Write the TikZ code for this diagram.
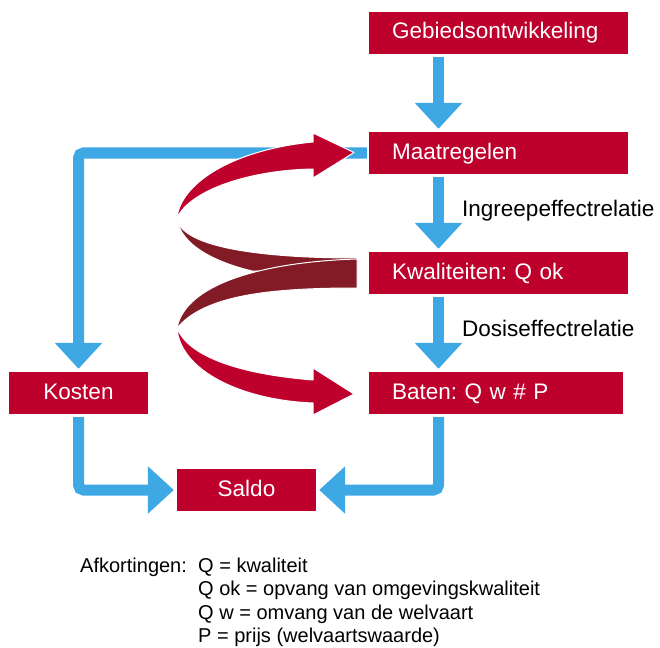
\documentclass[tikz,border=0pt]{standalone}
\usepackage{fontspec}
\setmainfont{Liberation Sans}
\usetikzlibrary{arrows.meta,calc}
\definecolor{boxred}{RGB}{190,0,45}
\definecolor{darkred}{RGB}{130,27,38}
\definecolor{arrowblue}{RGB}{62,168,229}
\newcommand\bxfont{\fontsize{22.5}{27}\selectfont}
\newcommand\ntfont{\fontsize{20}{24}\selectfont}
\frenchspacing
\tikzset{
  box/.style={fill=boxred, text=white, minimum height=42pt, inner ysep=0pt,
    font=\bxfont, text height=16pt, text depth=4pt},
  leftbox/.style={box, align=left, inner xsep=23pt, text width=#1},
  centerbox/.style={box, minimum width=139pt, inner xsep=0pt},
  flow/.style={arrowblue, line width=11pt, -{Triangle[width=46pt,length=26pt]}},
  ribbon/.style={fill=boxred, draw=white, line width=1pt, line join=round},
  darkribbon/.style={fill=darkred, draw=white, line width=1pt, line join=round},
  lbl/.style={font=\bxfont, anchor=base west, inner sep=0pt},
  note/.style={font=\ntfont, anchor=base west, inner sep=0pt}
}
\begin{document}
\begin{tikzpicture}[x=1pt,y=-1pt]
\useasboundingbox (0,0) rectangle (660,647);

% boxes
\node[leftbox=213pt] (geb) at (498.5,33) {Gebiedsontwikkeling};
\node[leftbox=213pt] (maat) at (498.5,153) {Maatregelen};
\node[leftbox=213pt] (kwal) at (498.5,273) {Kwaliteiten: Q ok};
\node[leftbox=208pt] (baten) at (496,393) {Baten: Q w \# P};
\node[centerbox] (kosten) at (78.5,393) {Kosten};
\node[centerbox] (saldo) at (246.5,490) {Saldo};

\coordinate (col) at (438.5,0);

% blue flows
\draw[flow, shorten <=3pt, shorten >=3pt] (col |- geb.south) -- (col |- maat.north);
\draw[flow, shorten <=3pt, shorten >=3pt] (col |- maat.south) -- (col |- kwal.north);
\draw[flow, shorten <=3pt, shorten >=3pt] (col |- kwal.south) -- (col |- baten.north);
\draw[flow, rounded corners=5pt, shorten <=2pt, shorten >=3pt]
  (maat.west) -- (kosten.north |- maat.west) -- (kosten.north);
\draw[flow, rounded corners=5pt, shorten <=3pt, shorten >=3pt]
  (kosten.south) -- (kosten.south |- saldo.west) -- (saldo.west);
\draw[flow, rounded corners=5pt, shorten <=3pt, shorten >=3pt]
  (col |- baten.south) -- (col |- saldo.east) -- (saldo.east);

% red ribbons
\path[darkribbon] (177,218) .. controls (180,245) and (250,258) .. (357,258)
  -- (357,275) -- (252,271) .. controls (215,262) and (180,245) .. (177,218) -- cycle;
\path[darkribbon] (357,259) .. controls (260,262) and (185,285) .. (177,328)
  .. controls (205,295) and (270,288) .. (357,288) -- cycle;
\path[ribbon] (177,218) .. controls (180,185) and (230,150) .. (313,142)
  -- (313,133) -- (354,152.5) -- (313,178) -- (313,169)
  .. controls (250,170) and (190,190) .. (177,218) -- cycle;
\path[ribbon] (177,328) .. controls (180,370) and (240,400) .. (313,403)
  -- (313,415) -- (354,394) -- (313,368) -- (313,380)
  .. controls (250,375) and (190,360) .. (177,328) -- cycle;

% labels
\node[lbl] (ingreep) at (462,216) {Ingreepeffectrelatie};
\node[lbl] (dosis) at (462,336) {Dosiseffectrelatie};

% notes
\node[note] (afk) at (80,572) {Afkortingen:};
\node[note] (n1) at (198,572) {Q = kwaliteit};
\node[note] (n2) at (198,595.5) {Q ok = opvang van omgevingskwaliteit};
\node[note] (n3) at (198,619) {Q w = omvang van de welvaart};
\node[note] (n4) at (198,642.5) {P = prijs (welvaartswaarde)};
\end{tikzpicture}
\end{document}
